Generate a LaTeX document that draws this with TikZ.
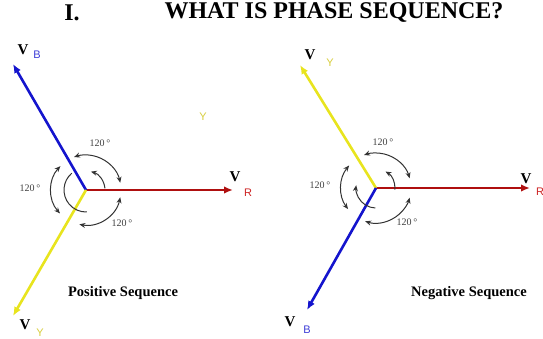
\documentclass[tikz,border=0pt]{standalone}
\usepackage{fontspec}
\setmainfont{Liberation Serif}
\setsansfont{Liberation Sans}
\usetikzlibrary{arrows.meta, positioning}
\definecolor{phblue}{RGB}{20, 20, 205}
\definecolor{phred}{RGB}{175, 15, 15}
\definecolor{phyellow}{RGB}{232, 228, 30}
\definecolor{subblue}{RGB}{60, 60, 215}
\definecolor{subred}{RGB}{205, 35, 35}
\definecolor{subyellow}{RGB}{215, 205, 60}

\begin{document}
\begin{tikzpicture}[x=1pt, y=1pt,
  phasor/.style={-{Latex[length=9pt, width=7.5pt]}, line width=2.6pt},
  turn/.style={{Stealth[length=6pt, width=5pt]}-{Stealth[length=6pt, width=5pt]}, line width=1pt, black!80},
  inturn/.style={line width=1pt, black!80},
  vlab/.style={inner sep=0pt, font=\bfseries\fontsize{15}{15}\selectfont},
  sublab/.style={inner sep=0pt, font=\sffamily\fontsize{11}{11}\selectfont},
  deg/.style={inner sep=0pt, text=black!75, font=\fontsize{10}{10}\selectfont},
  seq/.style={inner sep=0pt, font=\bfseries\fontsize{14.5}{14.5}\selectfont}
]
  \useasboundingbox (0, 0) rectangle (543, 338);

  % title
  \node[inner sep=0pt, font=\bfseries\fontsize{24}{24}\selectfont] (num) at (72, 325) {I.};
  \node[inner sep=0pt, font=\bfseries\fontsize{24}{24}\selectfont] (title) at (334, 325) {WHAT IS PHASE SEQUENCE?};

  % positive sequence
  \coordinate (P) at (86, 148);
  \coordinate (PR) at (233, 148);
  \coordinate (PB) at (13, 274);
  \coordinate (PY) at (13, 22);
  \draw[phasor, phred] (P) -- (PR);
  \draw[phasor, phblue] (P) -- (PB);
  \draw[phasor, phyellow] (P) -- (PY);
  \foreach \a/\b in {12/110, 137/222, 259/348}
    \draw[turn] (P) ++(\a:35pt) arc[start angle=\a, end angle=\b, radius=35pt];
  \draw[inturn, -{Stealth[length=6pt, width=5pt]}] (P) ++(5:19pt) arc[start angle=5, end angle=75, radius=19pt];
  \draw[inturn] (P) ++(130:22pt) arc[start angle=130, end angle=272, radius=22pt];

  \node[vlab] (pvb) at (23, 288) {V};
  \node[sublab, text=subblue] (pvbs) at (37, 283) {B};
  \node[vlab] (pvr) at (235, 161) {V};
  \node[sublab, text=subred] (pvrs) at (248, 145) {R};
  \node[vlab] (pvy) at (25, 13) {V};
  \node[sublab, text=subyellow] (pvys) at (40, 5) {Y};
  \node[sublab, text=subyellow] (stray) at (203, 221) {Y};

  \node[deg] (pd1) at (100, 195) {120\,°};
  \node[deg] (pd2) at (30, 150) {120\,°};
  \node[deg] (pd3) at (122, 115) {120\,°};
  \node[seq] (pseq) at (123, 45) {Positive Sequence};

  % negative sequence
  \coordinate (N) at (376, 150);
  \coordinate (NR) at (530, 150);
  \coordinate (NY) at (300, 273);
  \coordinate (NB) at (307, 28);
  \draw[phasor, phred] (N) -- (NR);
  \draw[phasor, phyellow] (N) -- (NY);
  \draw[phasor, phblue] (N) -- (NB);
  \foreach \a/\b in {16/110, 140/217, 252/344}
    \draw[turn] (N) ++(\a:35pt) arc[start angle=\a, end angle=\b, radius=35pt];
  \draw[inturn, -{Stealth[length=6pt, width=5pt]}] (N) ++(-5:19pt) arc[start angle=-5, end angle=60, radius=19pt];
  \draw[inturn, -{Stealth[length=6pt, width=5pt]}] (N) ++(268:20pt) arc[start angle=268, end angle=172, radius=20pt];

  \node[vlab] (nvy) at (310, 283) {V};
  \node[sublab, text=subyellow] (nvys) at (330, 275) {Y};
  \node[vlab] (nvr) at (526, 159) {V};
  \node[sublab, text=subred] (nvrs) at (540, 146) {R};
  \node[vlab] (nvb) at (290, 16) {V};
  \node[sublab, text=subblue] (nvbs) at (307, 8) {B};

  \node[deg] (nd1) at (383, 196) {120\,°};
  \node[deg] (nd2) at (320, 153) {120\,°};
  \node[deg] (nd3) at (407, 116) {120\,°};
  \node[seq] (nseq) at (469, 45) {Negative Sequence};
\end{tikzpicture}
\end{document}
